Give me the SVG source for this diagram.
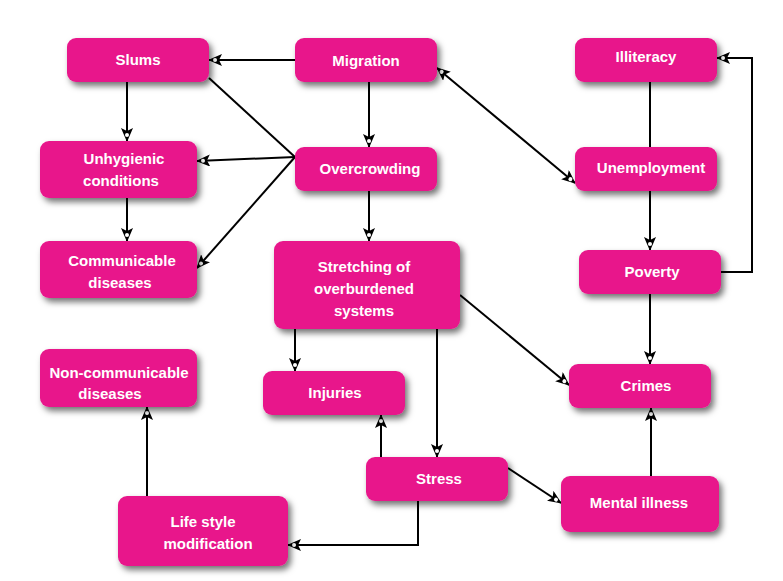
<svg xmlns="http://www.w3.org/2000/svg" width="783" height="581" viewBox="0 0 783 581">
<defs>
<style>
.n rect{fill:#E8198B;filter:url(#sh)}
.n text{fill:#fff;font-family:"Liberation Sans",Arial,sans-serif;font-weight:bold;font-size:15px;text-anchor:middle}
#c path{fill:none;stroke:#000;stroke-width:2}
</style>
<filter id="sh" x="-20%" y="-20%" width="150%" height="150%"><feDropShadow dx="3" dy="4" stdDeviation="3" flood-color="#000" flood-opacity="0.55"/></filter>
<marker id="a" viewBox="0 0 14 12" refX="13" refY="6" markerWidth="14" markerHeight="12" markerUnits="userSpaceOnUse" orient="auto-start-reverse">
<path d="M0,0 L14,6 L0,12 L3,6 Z" fill="#000"/><circle cx="7" cy="6" r="2" fill="#fff"/>
</marker>
</defs>
<rect width="783" height="581" fill="#fff"/>
<g id="c">
<path d="M295,60 H209" marker-end="url(#a)"/>
<path d="M127,82 V141" marker-end="url(#a)"/>
<path d="M127,198 V241" marker-end="url(#a)"/>
<path d="M369,82 V147" marker-end="url(#a)"/>
<path d="M209,78 L295,157"/>
<path d="M295,157 L197,161" marker-end="url(#a)"/>
<path d="M295,157 L197,268" marker-end="url(#a)"/>
<path d="M437,68 L575,183" marker-start="url(#a)" marker-end="url(#a)"/>
<path d="M650,82 V147"/>
<path d="M650,191 V250" marker-end="url(#a)"/>
<path d="M721,272 H752 V58 H717" marker-end="url(#a)"/>
<path d="M650,294 V364" marker-end="url(#a)"/>
<path d="M369,191 V241" marker-end="url(#a)"/>
<path d="M295,329 V371" marker-end="url(#a)"/>
<path d="M460,295 L569,385" marker-end="url(#a)"/>
<path d="M437,329 V457" marker-end="url(#a)"/>
<path d="M381,457 V415" marker-end="url(#a)"/>
<path d="M508,468 L561,503" marker-end="url(#a)"/>
<path d="M651,476 V408" marker-end="url(#a)"/>
<path d="M418,501 V545 H288" marker-end="url(#a)"/>
<path d="M147,496 V407" marker-end="url(#a)"/>
</g>
<g id="slums" class="n"><rect x="67" y="38" width="142" height="44" rx="9"/><text x="138" y="65">Slums</text></g>
<g id="migration" class="n"><rect x="295" y="38" width="142" height="44" rx="9"/><text x="366" y="66">Migration</text></g>
<g id="illiteracy" class="n"><rect x="575" y="38" width="142" height="44" rx="9"/><text x="646" y="62">Illiteracy</text></g>
<g id="unhygienic" class="n"><rect x="40" y="141" width="157" height="57" rx="9"/><text x="124" y="164">Unhygienic</text><text x="121" y="186">conditions</text></g>
<g id="overcrowding" class="n"><rect x="295" y="147" width="142" height="44" rx="9"/><text x="370" y="174">Overcrowding</text></g>
<g id="unemployment" class="n"><rect x="575" y="147" width="142" height="44" rx="9"/><text x="651" y="173">Unemployment</text></g>
<g id="communicable" class="n"><rect x="40" y="241" width="157" height="57" rx="9"/><text x="122" y="266">Communicable</text><text x="120" y="288">diseases</text></g>
<g id="stretching" class="n"><rect x="274" y="241" width="186" height="88" rx="9"/><text x="364" y="272">Stretching of</text><text x="364" y="294">overburdened</text><text x="364" y="316">systems</text></g>
<g id="poverty" class="n"><rect x="579" y="250" width="142" height="44" rx="9"/><text x="652" y="277">Poverty</text></g>
<g id="noncomm" class="n"><rect x="40" y="349" width="157" height="58" rx="9"/><text x="119" y="378">Non-communicable</text><text x="110" y="399">diseases</text></g>
<g id="injuries" class="n"><rect x="263" y="371" width="142" height="44" rx="9"/><text x="335" y="398">Injuries</text></g>
<g id="crimes" class="n"><rect x="569" y="364" width="142" height="44" rx="9"/><text x="646" y="391">Crimes</text></g>
<g id="stress" class="n"><rect x="366" y="457" width="142" height="44" rx="9"/><text x="439" y="484">Stress</text></g>
<g id="mental" class="n"><rect x="561" y="476" width="158" height="56" rx="9"/><text x="639" y="508">Mental illness</text></g>
<g id="lifestyle" class="n"><rect x="118" y="496" width="170" height="70" rx="9"/><text x="203" y="527">Life style</text><text x="208" y="549">modification</text></g>
</svg>
